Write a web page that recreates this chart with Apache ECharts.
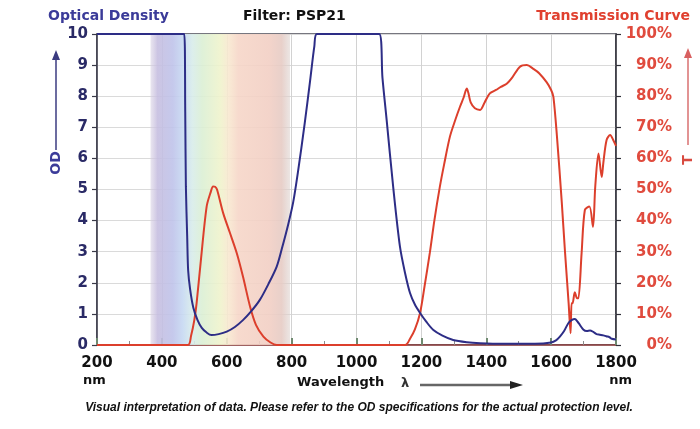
<!DOCTYPE html>
<html>
<head>
<meta charset="utf-8">
<script src="https://cdn.jsdelivr.net/npm/echarts@6/dist/echarts.min.js"></script>
<style>
html,body{margin:0;padding:0;background:#fff;}
#chart{width:700px;height:429px;}
</style>
</head>
<body>
<div id="chart"></div>
<script>
// ---- Data ----
const xTicks = [200, 400, 600, 800, 1000, 1200, 1400, 1600, 1800];
const odTicks = [0,1,2,3,4,5,6,7,8,9,10];
const tTicks = [0,10,20,30,40,50,60,70,80,90,100];

// Optical density curve (wavelength nm, OD)
const odWavelengths = [200, 300, 400, 469, 472, 474, 478, 481, 487, 497, 510, 523, 538, 553, 575, 600, 625, 650, 675, 702, 728, 754, 770, 790, 805, 820, 840, 857, 870, 878,
  1000, 1070, 1080, 1093, 1113, 1134, 1150, 1165, 1180, 1196, 1215, 1237, 1265, 1298, 1340, 1381, 1450, 1550, 1600, 1615, 1627, 1640, 1653, 1663, 1673, 1685, 1699, 1710, 1720, 1730, 1740, 1750, 1761, 1770, 1780, 1787, 1800];
const odValues = [10, 10, 10, 10, 7.5, 5.1, 3.5, 2.4, 1.8, 1.2, 0.8, 0.55, 0.4, 0.32, 0.35, 0.43, 0.58, 0.8, 1.08, 1.45, 1.95, 2.52, 3.1, 3.9, 4.6, 5.6, 7.1, 8.5, 9.6, 10,
  10, 10, 8.6, 7.23, 5.09, 3.16, 2.3, 1.67, 1.3, 1.03, 0.75, 0.48, 0.3, 0.16, 0.09, 0.06, 0.04, 0.04, 0.08, 0.15, 0.27, 0.45, 0.7, 0.8, 0.84, 0.7, 0.5, 0.45, 0.47, 0.42, 0.35, 0.33, 0.31, 0.28, 0.25, 0.2, 0.18];

// Transmission curve (wavelength nm, %)
const tWavelengths = [200, 480, 490, 500, 507, 520, 538, 550, 558, 564, 570, 589, 610, 631, 650, 672, 690, 713, 735, 754,
  1150, 1165, 1180, 1196, 1210, 1226, 1240, 1257, 1270, 1288, 1305, 1319, 1330, 1340, 1345, 1352, 1365, 1381, 1395, 1411, 1430, 1445, 1463, 1480, 1504, 1525, 1545, 1563, 1586, 1600, 1607, 1618, 1633, 1643, 1654, 1660, 1663, 1666, 1673, 1680, 1684, 1694, 1704, 1718, 1729, 1736, 1746, 1756, 1761, 1771, 1782, 1791, 1800];
const tValues = [0, 0, 3, 8, 13.4, 27, 44.5, 49, 51, 50.9, 50, 42.4, 36, 29.5, 22, 12.3, 6.5, 2.7, 0.8, 0,
  0, 2, 5, 10.3, 19, 29.6, 40, 50.9, 58, 67, 72.5, 76.6, 79.5, 82.5, 81, 78, 76.1, 75.6, 78, 80.9, 82, 83, 84, 86, 89.5, 90, 88.8, 87.4, 84.5, 82, 79.8, 67, 45.6, 29.6, 13.4, 3.8, 13.4, 13.4, 17, 15, 15, 29.6, 43.4, 44.5, 38, 50.9, 61.6, 54, 58.6, 65.9, 67.5, 66, 64];

// Visible spectrum band (nm)
const spectrumBand = [365, 795];

const odData = odWavelengths.map((w, i) => [w, odValues[i]]);
const tData = tWavelengths.map((w, i) => [w, tValues[i]]);

const chart = echarts.init(document.getElementById('chart'));
const FONT = 'DejaVu Sans';

const option = {
  backgroundColor: '#ffffff',
  animation: false,
  grid: { left: 97, right: 84, top: 34, bottom: 84, show: true, borderColor: '#4a4a55', borderWidth: 1.5, backgroundColor: 'transparent' },
  xAxis: {
    type: 'value', min: xTicks[0], max: xTicks[xTicks.length - 1], interval: 200,
    axisLine: { show: true, lineStyle: { color: '#8a3a3a', width: 1.5 } },
    axisTick: { show: true, inside: true, length: 7, lineStyle: { color: '#6f8a70', width: 2 } },
    minorTick: { show: true, splitNumber: 2, length: 4, lineStyle: { color: '#8a8a8a' } },
    splitLine: { show: true, lineStyle: { color: '#d2d2d2', width: 1 } },
    axisLabel: { margin: 11, color: '#111', fontFamily: FONT, fontWeight: 'bold', fontSize: 15,
      formatter: v => xTicks.indexOf(v) >= 0 ? String(v) : '' }
  },
  yAxis: [{
    type: 'value', min: 0, max: 10, interval: 1,
    axisLine: { show: true, lineStyle: { color: '#3a3a48', width: 1.5 } },
    axisTick: { show: true, length: 5, lineStyle: { color: '#3a3a48', width: 1.2 } },
    splitLine: { show: true, lineStyle: { color: '#dadada', width: 1 } },
    axisLabel: { margin: 9, color: '#2a2a66', fontFamily: FONT, fontWeight: 'bold', fontSize: 15,
      formatter: v => odTicks.indexOf(v) >= 0 ? String(v) : '' }
  }, {
    type: 'value', min: 0, max: 100, interval: 10, position: 'right',
    axisLine: { show: true, lineStyle: { color: '#2f2f38', width: 1.5 } },
    axisTick: { show: true, length: 5, lineStyle: { color: '#2f2f38', width: 1.2 } },
    splitLine: { show: false },
    axisLabel: { margin: 56, align: 'right', color: '#e04b3e', fontFamily: FONT, fontWeight: 'bold', fontSize: 15,
      formatter: v => tTicks.indexOf(v) >= 0 ? v + '%' : '' }
  }],
  series: [{
    name: 'band', type: 'line', data: [], z: 1, silent: true,
    markArea: {
      silent: true,
      itemStyle: {
        opacity: 0.9,
        color: new echarts.graphic.LinearGradient(0, 0, 1, 0, [
          { offset: 0, color: 'rgba(214,206,226,0.6)' },
          { offset: 0.05, color: '#c6bee0' },
          { offset: 0.16, color: '#bfc3ea' },
          { offset: 0.23, color: '#c6d8f2' },
          { offset: 0.3, color: '#d8ecea' },
          { offset: 0.37, color: '#dbefd4' },
          { offset: 0.5, color: '#eff3cc' },
          { offset: 0.56, color: '#f8e8d0' },
          { offset: 0.63, color: '#f6d6c8' },
          { offset: 0.85, color: '#f2cfc4' },
          { offset: 0.94, color: '#e6cbc4' },
          { offset: 1, color: 'rgba(220,208,204,0.6)' }
        ])
      },
      data: [[{ xAxis: spectrumBand[0] }, { xAxis: spectrumBand[1] }]]
    }
  }, {
    name: 'Transmission', type: 'line', yAxisIndex: 1, data: tData, z: 3,
    showSymbol: false, smooth: 0.3,
    lineStyle: { color: '#dc3f2c', width: 2 }
  }, {
    name: 'OD', type: 'line', yAxisIndex: 0, data: odData, z: 4,
    showSymbol: false, smooth: 0.3,
    lineStyle: { color: '#2d2d86', width: 2 }
  }],
  graphic: [
    { type: 'text', left: 48, top: 9, style: { text: 'Optical Density', fill: '#3b3b99', font: 'bold 14px "DejaVu Sans"' } },
    { type: 'text', left: 243, top: 9, style: { text: 'Filter: PSP21', fill: '#111', font: 'bold 14px "DejaVu Sans"' } },
    { type: 'text', right: 10, top: 9, style: { text: 'Transmission Curve', fill: '#e0402f', font: 'bold 14px "DejaVu Sans"' } },
    // OD axis title + arrow
    { type: 'text', x: 56, y: 163, rotation: Math.PI / 2, style: { text: 'OD', fill: '#3b3b99', font: 'bold 14px "DejaVu Sans"', align: 'center', verticalAlign: 'middle' } },
    { type: 'line', shape: { x1: 56, y1: 150, x2: 56, y2: 58 }, style: { stroke: '#3b3b80', lineWidth: 1.5 } },
    { type: 'polygon', shape: { points: [[52, 60], [60, 60], [56, 50]] }, style: { fill: '#3b3b80' } },
    // T axis title + arrow
    { type: 'text', x: 688, y: 160, rotation: Math.PI / 2, style: { text: 'T', fill: '#d84a40', font: 'bold 14px "DejaVu Sans"', align: 'center', verticalAlign: 'middle' } },
    { type: 'line', shape: { x1: 688, y1: 145, x2: 688, y2: 56 }, style: { stroke: '#d87070', lineWidth: 1.5 } },
    { type: 'polygon', shape: { points: [[684, 58], [692, 58], [688, 48]] }, style: { fill: '#d86060' } },
    // nm labels
    { type: 'text', x: 83, y: 374, style: { text: 'nm', fill: '#111', font: 'bold 13px "DejaVu Sans"' } },
    { type: 'text', x: 632, y: 374, style: { text: 'nm', fill: '#111', font: 'bold 13px "DejaVu Sans"', align: 'right' } },
    // Wavelength label with arrow
    { type: 'text', x: 297, y: 376, style: { text: 'Wavelength', fill: '#111', font: 'bold 13px "DejaVu Sans"' } },
    { type: 'text', x: 401, y: 377, style: { text: 'λ', fill: '#333', font: 'bold 13px "DejaVu Sans"' } },
    { type: 'line', shape: { x1: 420, y1: 385, x2: 512, y2: 385 }, style: { stroke: '#666', lineWidth: 2.5 } },
    { type: 'polygon', shape: { points: [[510, 381], [510, 389], [523, 385]] }, style: { fill: '#222' } },
    // Footer
    { type: 'text', x: 359, y: 408, style: { text: 'Visual interpretation of data. Please refer to the OD specifications for the actual protection level.', fill: '#111', font: 'italic bold 12px "Liberation Sans"', align: 'center', verticalAlign: 'middle' } }
  ]
};
chart.setOption(option);
</script>
</body>
</html>
